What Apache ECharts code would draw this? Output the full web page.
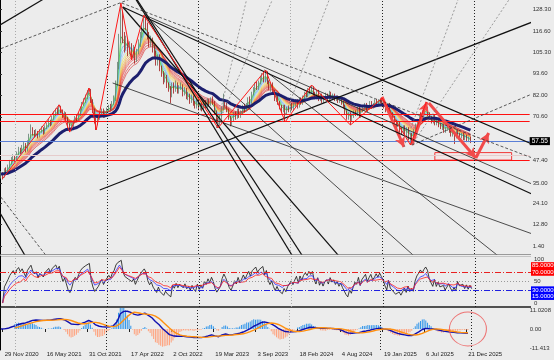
<!DOCTYPE html>
<html><head><meta charset="utf-8">
<script src="https://cdn.jsdelivr.net/npm/echarts@6/dist/echarts.min.js"></script>
<style>html,body{margin:0;padding:0;background:#ececec;}#c{width:554px;height:360px;}</style>
</head><body><div id="c"></div>
<script>
// ---------- DATA ----------
const startDate = '2020-11-22';
const totalWeeks = 300;
const closes = [40,38.5,42,41,44,46, 47.5,49,48,51,53,52, 54,55.5,53,57, 60,64,62, 61,62.5,60.5,63, 64,62.5,65,66, 68,67,70, 72,74,73,76, 73.5,71,72.5,70, 66,63.5,65, 68,70,69,72, 75,77.5,79,81, 84,85, 79,74,69,67, 70,72,74,71,73, 74,76,75,78,80, 88,97,112,126, 114,108,111,106,109, 104,107,101,105,110, 114,118,122,120, 114,110,112,107, 105,100,103,97, 94,90,92,88, 86,82,88, 85,88,84,86, 87,83,85,81, 82,79,81, 78,76,79,75, 77,74.5,78,76, 79,77,80,78, 73,69,67,70, 75,79,77,74, 70,67,69, 72,70,74,71, 73,76,74,77, 80,78,83, 85,88,86,89, 91,93,90,94, 89,86,88, 84,80,82,78,76,74, 76,73,75,74,77,75, 77,79,76,80,78, 81,83,82,85,84,86, 83,81,84,80,82,79, 81,82,80,83,81, 82,80,81,79,80,78, 76,73,70,72,69,71, 73,72,75,71,74, 75,77,74,76,78,76, 77,79,78,80,79,78, 76,74,77,73,72, 70,68,66,67,64,63, 65,62,64,60,61,59, 63,66,68,71,70, 73,76,75,72, 70,68,71,67,69,66, 65,66,63,64,65, 63,61,62,60,63,61, 60,61,59,60,58,59, 57.55];
const highs = [41.5,41,43,43.5,45,47.5,49,50.5,50,52, 54.5,54,55.5,57,56.5,58,61.5,66.5,65,63.5, 64,63,64,65.5,65,66,67.5,69.5,69,71, 73.5,75,75.5,77,76.5,74.5,73.5,73,70.5,67, 66.5,69,71,71.5,73,76,78.5,80.5,82.5,85, 86,85.5,80,75,70,71,73,75,75,74, 75.5,77,77.5,79,82,90,100,115,131.5,127, 116,114,112,111,110,109,108,107,112,116, 120,125,124,121,116,114,113,109,106,104, 104,98,95,94,93,89,87,89,89,90, 89,87.5,89,88,86.5,86,84,83,82.5,82, 79,80,80,78,78,79,79.5,80.5,80,81, 81.5,79,74,70,71,76,83,80,78,75, 71,70,73,73.5,75,75,74,77,77.5,78, 81,81.5,84,86.5,89,89.5,90,92.5,94,94.5, 95.6,95,90,89,89,85,83,83,79,77, 77,77,76,76.5,78,78,78,80,80,81, 81,82,84,84.5,86,86.5,87.6,87,84,85, 85,83,83,82,83.5,83,84.5,84,83,83, 82,82,81,81,79,77,74,73,73,72, 74,74,76,76,75,76,78,78,77,79, 79,78,80,80,80,80.5,80.6,79,77,78, 78,74,73,71,69,68.5,68,65,66,66, 65,65,62,62,64,67,69.5,72,73,74, 77,78.5,76,73,71,72,72,70,70,67, 67,67,65,66,66,64,63,63,64,64, 62,62,62,61,61,60,60];
const lows = [37.5,37,38,39.5,40,43,45,46.5,46.5,47, 50,50.5,51,53,51.5,52,56,59,60.5,59.5, 60,59,59.5,62,61,61.5,64,65,65.5,66, 69,71,72,72,72.5,70,70,68.5,64.5,62.4, 62.8,64,67,68,68.5,71,74,76.5,78,80, 82.5,78,72.5,67,63.5,66,69,71,70,70, 72,73,74,74,77,79,87,96,110,110, 105,106,103,104,101,102,99,100,104,108, 113,116,117,112,108,108,105,102,98,98, 95,92,88,89,86,84,78,81,83,84, 83,83,85,81.5,82,80,79.5,77.5,78,76.5, 75,75,74,74,73.5,74,75,75.5,76,76.5, 77,72,68,64.6,66,69,74,76,73,69, 65.5,66,68,69,69.5,70,70,72,73,73.5, 76,77,77.5,82,84,85,85,88,90,89, 89,88,85,84,83,79,78.5,77,74.5,72.5, 73,67.8,72,73,73,74,74,76,75,75.5, 77,77,80,81,81,83,83,82,80,80, 79,79,78,78,80,79,79.5,80,80,79, 79,78,78,77,75,72,69,69,66.2,68, 70,71,71,70,70,73,74,73,73,75, 75,75,76,77,77,78,77,75,73,73, 72,70,69,66,64,65,62,61,61.5,60.5, 60,58,55.5,57,58,62,65,67,69,69, 72,74,71,69,67,67,66,66,65,64, 63.5,62,62,63,62,60,60,56,59,60, 59,59,58,58,57,57,56.5];
const priceTicks = [128.30,116.60,105.30,93.60,82.00,70.60,47.40,35.00,24.10,12.80,1.40];
const oscTicks = [100,50,0];
const oscBoxes = [85,70,30,15];
const macdTicks = [11.0208,0,-11.413];
const lastPrice = 57.55;
const redLevels = [72.0,68.3,47.4];
const faintLevel = 50.1;
const zoneBox = [[246.3,51.4],[289.8,47.4]];
const yearSeparators = [8.5,60.5,112.5,164.5,216.5,268.5];
const separatorDark = [false,true,true,false,true,true];
const zigzag = [[1,37.5],[33,77],[39,62.4],[50,86],[54,63.5],[68,131.5],[74,101],[81,125],[123,64.6],[150,95.6],[161,67.8],[176,87.6],[198,66.2],[216,80.6],[232,55.5],[241,78.5]];
const arrows = [[216.4,81.2,228.8,54.4],[233.3,55.5,241.8,78.5],[242.9,78.0,269.5,48.5],[269.5,48.5,276.8,61.9]];
// trend lines: [week1, price1, week2, price2, mode]
const solidLines = [[0,119.74,23.73,133.13,'line'],[69.5,129.38,300,29.78,'ray'],[186.4,102.4,300,56.56,'ray'],[56.5,31.4,300,120.8,'ray'],[83.05,124.03,164.97,-2.89,'line'],[88.7,117.07,170.6,-2.89,'line'],[69.5,129.38,190.97,-2.89,'ray'],[0,19.07,13,-1.82,'line']];
const thinLines = [[63.8,88.68,300,8.36,'ray'],[81.9,125.1,233.3,-2.89,'ray'],[149.7,95.65,280.8,-2.89,'ray'],[81.9,125.1,300,35.13,'ray']];
const dashedLines = [[0,106.9,67.8,131.5,'line'],[68.9,131.52,300,49.06,'ray'],[233.3,55.48,300,82.26,'ray'],[0,28.17,25.4,-2.89,'line']];
const fanLines = [[233.3,55.48,288.2,133.13,'ray'],[228.8,54.41,246.9,101.0,'ray'],[122.6,64.59,139.6,133.13,'ray'],[122.6,64.59,154.2,133.13,'ray'],[159.9,67.8,186.4,133.13,'ray']];
const ribbonPeriods = [3,4,5,6,7,8,9,10,11,12,13,14,16,18];
const ribbonColors = ['#10c010','#50d050','#40b8e8','#70a8f0','#a0c8ff','#e8e860','#f0cc40','#f5a838','#f08c30','#f07030','#f05050','#e84040','#e03030','#d82020'];

// ---------- helpers ----------
const months=['Jan','Feb','Mar','Apr','May','Jun','Jul','Aug','Sep','Oct','Nov','Dec'];
const cats=[];{const d0=new Date(startDate+'T00:00:00Z');for(let k=0;k<totalWeeks;k++){const d=new Date(d0.getTime()+k*7*86400000);cats.push(d.getUTCDate()+' '+months[d.getUTCMonth()]+' '+d.getUTCFullYear());}}
function ema(a,n){const k=2/(n+1);let p=a[0];return a.map((v,i)=>{p=i===0?v:v*k+p*(1-k);return +p.toFixed(3);});}
function sma(a,n){return a.map((v,i)=>{if(i<n-1)return null;let s=0;for(let j=i-n+1;j<=i;j++)s+=a[j];return +(s/n).toFixed(3);});}
function rsi(a,n){let ag=0,al=0;const out=[null];for(let i=1;i<a.length;i++){const d=a[i]-a[i-1];const g=Math.max(d,0),l=Math.max(-d,0);if(i===1){ag=g;al=l;}else{ag=(ag*(n-1)+g)/n;al=(al*(n-1)+l)/n;}out.push(al===0?100:+(100-100/(1+ag/al)).toFixed(2));}return out;}
function extend(l){const [v1,p1,v2,p2,m]=l;if(m==='seg')return [[v1,p1],[v2,p2]];const s=(p2-p1)/(v2-v1);const a=m==='ray'?v1:-100,b=420;return [[a,p1+s*(a-v1)],[b,p1+s*(b-v1)]];}

const opens = closes.map((c,i)=>i===0?39:closes[i-1]);
const candle = closes.map((c,i)=>[opens[i],c,lows[i],highs[i]]);
const navy = ema(closes,30);
const e12=ema(closes,12),e26=ema(closes,26);
const macd=e12.map((v,i)=>+(v-e26[i]).toFixed(3));
const signal=sma(macd,9);
const hist=macd.map((v,i)=>signal[i]==null?0:+(v-signal[i]).toFixed(3));
const H=Math.max(...hist.map(Math.abs))*0.85;
const rsiFast=rsi(closes,5),rsiMid=rsi(closes,10),rsiSlow=rsi(closes,14);

const F='Liberation Sans';
const sepLines=()=>yearSeparators.map((v,k)=>({xAxis:v,lineStyle:{color:separatorDark[k]?'#222':'#aaa',width:1,type:[1,2]}}));
const series=[];
series.push({type:'candlestick',xAxisIndex:0,yAxisIndex:0,data:candle,barWidth:1.3,
  itemStyle:{color:'#5f8070',color0:'#a01818',borderColor:'#5f8070',borderColor0:'#a01818',borderWidth:0.8},z:3});
ribbonPeriods.forEach((p,k)=>series.push({type:'line',xAxisIndex:0,yAxisIndex:0,data:ema(closes,p),symbol:'none',
  lineStyle:{width:0.8,color:ribbonColors[k],opacity:0.75},z:2}));
series.push({type:'line',xAxisIndex:0,yAxisIndex:0,data:navy,symbol:'none',lineStyle:{width:3,color:'#1c1f6e'},z:4});
const addLines=(arr,style)=>arr.forEach(l=>series.push({type:'line',xAxisIndex:1,yAxisIndex:0,data:extend(l),symbol:'none',lineStyle:style,z:5,silent:true}));
addLines(solidLines,{width:1.2,color:'#111'});
addLines(thinLines,{width:0.8,color:'#222'});
addLines(dashedLines,{width:0.8,color:'#333',type:[3,2]});
addLines(fanLines,{width:0.7,color:'#777',type:[2,2]});
const hl=[];
redLevels.forEach(v=>hl.push({yAxis:v,lineStyle:{color:'#ff1010',width:1.2,type:'solid'}}));
hl.push({yAxis:faintLevel,lineStyle:{color:'#e6cccc',width:1,type:'solid'}});
hl.push({yAxis:lastPrice,lineStyle:{color:'#5b7fd6',width:1.2,type:'solid'},label:{show:true,position:'end',distance:0,formatter:lastPrice.toFixed(2),color:'#fff',backgroundColor:'#000',fontSize:6.5,fontFamily:F,padding:[1,2,0,2]}});
sepLines().forEach(s=>hl.push(s));
arrows.forEach(a=>hl.push([{coord:[a[0],a[1]],symbol:'none',lineStyle:{color:'#f24a4a',width:3,type:'solid'}},{coord:[a[2],a[3]],symbol:'arrow',symbolSize:[8,10]}]));
series.push({type:'line',xAxisIndex:1,yAxisIndex:0,data:zigzag.map(z=>[z[0]+0.5,z[1]]),symbol:'none',lineStyle:{width:1,color:'#ff1818'},z:6,
  markLine:{silent:true,symbol:['none','none'],label:{show:false},lineStyle:{width:1},data:hl},
  markArea:{silent:true,itemStyle:{color:'rgba(255,225,225,0.35)',borderColor:'#f03838',borderWidth:1},data:[[{coord:zoneBox[0]},{coord:zoneBox[1]}]]}});
// oscillator panel
series.push({type:'line',xAxisIndex:2,yAxisIndex:1,data:rsiFast,symbol:'none',lineStyle:{width:0.8,color:'#111'}});
series.push({type:'line',xAxisIndex:2,yAxisIndex:1,data:rsiMid,symbol:'none',lineStyle:{width:0.8,color:'#3030ff'}});
series.push({type:'line',xAxisIndex:2,yAxisIndex:1,data:rsiSlow,symbol:'none',lineStyle:{width:0.8,color:'#ff2020'}});
const oscML=[];
oscBoxes.forEach(v=>{const red=v>50;const visible=(v===70||v===30);
  oscML.push({yAxis:v,lineStyle:{color:visible?(red?'#e82020':'#2020e0'):'rgba(0,0,0,0)',width:1,type:[6,2,1,2]},
    label:{show:true,position:'end',distance:0,formatter:v.toFixed(4),color:'#fff',backgroundColor:red?'#ff0000':'#0000ff',fontSize:6,fontFamily:F,padding:[1,1,0,1]}});});
oscML.push({yAxis:50,lineStyle:{color:'#999',width:1,type:[1,2]}});
series.push({type:'line',xAxisIndex:3,yAxisIndex:1,data:[],symbol:'none',
  markLine:{silent:true,symbol:['none','none'],label:{show:false},data:oscML.concat(sepLines())}});
// macd panel
series.push({type:'bar',xAxisIndex:4,yAxisIndex:3,data:hist.map(v=>({value:v,itemStyle:{color:v>=0?'#2f95ea':'#ffa07a'}})),barWidth:1});
series.push({type:'line',xAxisIndex:4,yAxisIndex:2,data:macd,symbol:'none',lineStyle:{width:1.4,color:'#1010b0'}});
series.push({type:'line',xAxisIndex:4,yAxisIndex:2,data:signal,symbol:'none',lineStyle:{width:1.4,color:'#ff9010'}});
series.push({type:'scatter',xAxisIndex:4,yAxisIndex:2,data:[[closes.length-1,0]],symbol:'circle',symbolSize:[37,34],
  itemStyle:{color:'rgba(0,0,0,0)',borderColor:'#ee5555',borderWidth:1},z:10});
series.push({type:'line',xAxisIndex:5,yAxisIndex:2,data:[],symbol:'none',
  markLine:{silent:true,symbol:['none','none'],label:{show:false},data:sepLines()}});

const hid={show:false};
const labelInt=(i)=>(i-1)%24===0 && i<closes.length;
const yBase={position:'right',splitLine:hid,axisLine:{show:true,lineStyle:{color:'#000',width:1}}};
const option={animation:false,backgroundColor:'#ececec',
 grid:[{left:0,top:0,width:531,height:254},{left:0,top:256,width:531,height:51},{left:0,top:308,width:531,height:42}],
 xAxis:[
  {type:'category',gridIndex:0,data:cats,boundaryGap:true,axisLine:hid,axisTick:hid,axisLabel:hid,splitLine:hid},
  {type:'value',gridIndex:0,min:0,max:totalWeeks,show:false},
  {type:'category',gridIndex:1,data:cats,boundaryGap:true,axisLine:hid,axisTick:hid,axisLabel:hid,splitLine:hid},
  {type:'value',gridIndex:1,min:0,max:totalWeeks,show:false},
  {type:'category',gridIndex:2,data:cats,boundaryGap:true,axisLine:hid,splitLine:hid,
    axisTick:{show:true,alignWithLabel:true,interval:labelInt,length:3,lineStyle:{color:'#222'}},
    axisLabel:{show:true,interval:labelInt,align:'left',margin:1,fontSize:6,fontFamily:F,color:'#222',padding:[0,0,0,2]}},
  {type:'value',gridIndex:2,min:0,max:totalWeeks,show:false}],
 yAxis:[
  Object.assign({type:'value',gridIndex:0,min:-2.9,max:133.13,axisLabel:{customValues:priceTicks,formatter:v=>v.toFixed(2),fontSize:6,fontFamily:F,color:'#333',margin:3}},yBase,{axisTick:{show:true,length:2,customValues:priceTicks,lineStyle:{color:'#333'}}}),
  Object.assign({type:'value',gridIndex:1,min:-9,max:107,axisLabel:{customValues:oscTicks,formatter:v=>String(v),fontSize:6,fontFamily:F,color:'#333',margin:3}},yBase,{axisTick:{show:false}}),
  Object.assign({type:'value',gridIndex:2,min:-12.6,max:12.6,axisLabel:{customValues:macdTicks,formatter:v=>v===0?'0.00':String(v),fontSize:6,fontFamily:F,color:'#333',margin:3}},yBase,{axisTick:{show:false}}),
  {type:'value',gridIndex:2,min:-H,max:H,show:false,position:'left'}],
 graphic:[
  {type:'rect',shape:{x:0,y:254,width:531,height:1},style:{fill:'#9a9a9a'},silent:true},
  {type:'rect',shape:{x:0,y:256,width:531,height:1},style:{fill:'#c4c4c4'},silent:true},
  {type:'rect',shape:{x:0,y:306,width:531,height:2},style:{fill:'#505050'},silent:true}],
 series:series};
echarts.init(document.getElementById('c'),null,{renderer:'canvas'}).setOption(option);
</script></body></html>
